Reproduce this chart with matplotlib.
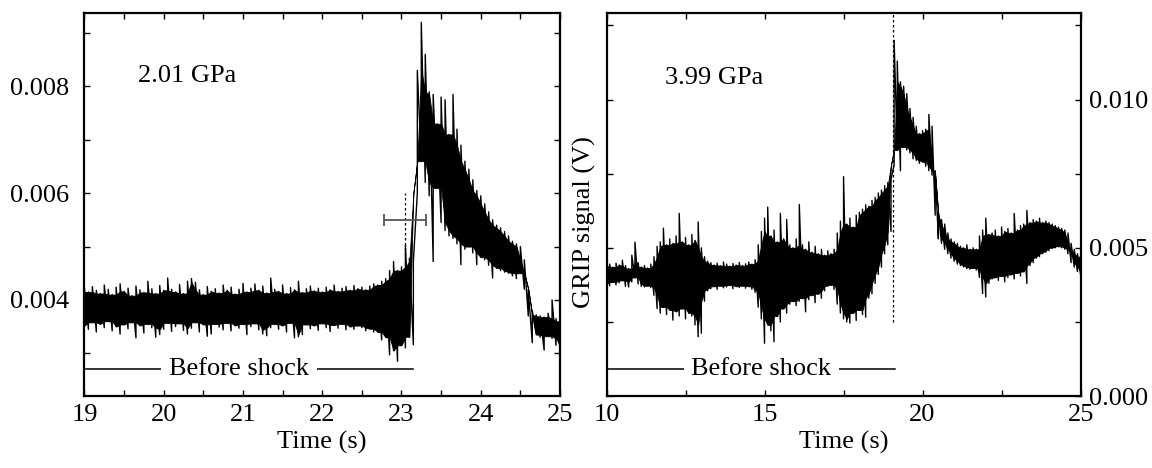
import numpy as np
import pandas as pd
import matplotlib
matplotlib.use("Agg")
import matplotlib.pyplot as plt
from matplotlib.ticker import MultipleLocator, FormatStrFormatter

plt.rcParams['font.family'] = ['Liberation Serif', 'DejaVu Serif']
plt.rcParams['font.size'] = 19

left_time = np.linspace(19.0, 25.0, 121)
left_high = [
    4.22, 4.15, 4.25, 4.18, 4.12, 4.28, 4.20, 4.10, 4.24, 4.30,
    4.16, 4.22, 4.08, 4.26, 4.19, 4.14, 4.35, 4.21, 4.12, 4.27,
    4.18, 4.41, 4.20, 4.15, 4.29, 4.12, 4.35, 4.40, 4.33, 4.19,
    4.10, 4.25, 4.16, 4.21, 4.13, 4.28, 4.18, 4.24, 4.11, 4.20,
    4.31, 4.15, 4.22, 4.30, 4.18, 4.26, 4.13, 4.41, 4.20, 4.16,
    4.28, 4.12, 4.23, 4.19, 4.35, 4.14, 4.21, 4.26, 4.17, 4.22,
    4.15, 4.24, 4.19, 4.28, 4.16, 4.22, 4.25, 4.18, 4.27, 4.21,
    4.24, 4.19, 4.26, 4.30,
    4.28, 4.35, 4.40, 4.55, 4.72, 4.55, 4.62, 5.03, 4.78, 4.72,
    8.30, 9.20, 8.60, 7.90, 7.85, 7.30, 7.80, 7.75, 7.10, 7.85,
    7.20, 6.90, 6.60, 6.45, 6.25, 6.05, 5.95, 5.80, 5.65, 5.50,
    5.40, 5.35, 5.28, 5.20, 5.10, 5.05, 5.00, 4.75, 4.20, 3.80,
    3.72, 3.70, 3.68, 3.75, 4.00, 3.65, 3.60,
]
left_low = [
    3.52, 3.45, 3.58, 3.40, 3.55, 3.48, 3.60, 3.42, 3.50, 3.36,
    3.54, 3.46, 3.58, 3.29, 3.52, 3.38, 3.55, 3.48, 3.30, 3.35,
    3.45, 3.57, 3.41, 3.50, 3.56, 3.43, 3.36, 3.47, 3.58, 3.40,
    3.54, 3.32, 3.36, 3.55, 3.49, 3.44, 3.57, 3.42, 3.52, 3.47,
    3.55, 3.35, 3.50, 3.56, 3.44, 3.36, 3.33, 3.48, 3.55, 3.45,
    3.52, 3.40, 3.57, 3.29, 3.31, 3.35, 3.54, 3.46, 3.52, 3.43,
    3.56, 3.48, 3.41, 3.53, 3.47, 3.55, 3.44, 3.50, 3.45, 3.52,
    3.48, 3.42, 3.46, 3.40,
    3.40, 3.25, 3.30, 2.97, 3.05, 2.85, 3.15, 3.10, 3.31, 3.16,
    6.00, 6.60, 6.20, 5.95, 4.72, 6.10, 5.45, 5.30, 5.20, 5.15,
    5.05, 4.66, 4.95, 5.00, 4.88, 4.66, 4.80, 4.75, 4.65, 4.41,
    4.60, 4.55, 4.52, 4.50, 4.45, 4.40, 4.50, 4.20, 3.70, 3.20,
    3.35, 3.30, 3.06, 3.32, 3.28, 3.15, 3.10,
]

right_time = np.linspace(10.0, 25.0, 151)
right_high = [
    4.40, 4.45, 4.35, 4.48, 4.42, 4.58, 4.40, 4.30, 4.75, 5.19,
    4.50, 4.35, 4.40, 4.32, 4.45, 4.70, 5.05, 5.20, 5.66, 5.10,
    5.30, 5.15, 5.40, 6.16, 5.20, 5.35, 5.10, 5.45, 5.25, 5.87,
    5.00, 4.70, 4.55, 4.50, 4.42, 4.48, 4.40, 4.52, 4.45, 4.38,
    4.47, 4.42, 4.50, 4.40, 4.46, 4.52, 4.45, 4.60, 5.10, 5.55,
    6.00, 6.37, 5.40, 5.60, 5.20, 6.16, 5.30, 5.96, 5.10, 5.00,
    5.30, 6.46, 5.10, 4.95, 5.20, 4.85, 5.05, 4.80, 4.95, 4.75,
    4.90, 4.80, 4.95, 5.50, 5.90, 7.40, 5.80, 6.00, 5.70, 6.10,
    6.20, 6.30, 6.45, 6.40, 6.60, 6.70, 6.85, 6.95, 7.10, 7.20,
    7.30, 12.00, 11.30, 10.60, 10.45, 10.20, 9.70, 9.40, 9.10, 8.85,
    8.95, 9.00, 9.50, 9.10, 7.60, 6.20, 5.95, 5.80, 5.50, 5.30,
    5.20, 5.15, 5.05, 5.00, 5.10, 4.95, 5.00, 4.95, 5.40, 5.60,
    6.00, 5.45, 5.50, 5.60, 5.40, 5.70, 5.55, 5.65, 5.50, 6.16,
    5.60, 5.75, 5.80, 6.26, 5.85, 5.95, 5.90, 6.00, 5.85, 5.90,
    5.85, 5.80, 5.75, 5.70, 5.65, 5.60, 5.50, 5.15, 4.95, 4.80,
    4.70,
]
right_low = [
    3.80, 3.72, 3.85, 3.75, 3.82, 3.90, 3.70, 3.68, 3.85, 4.00,
    3.78, 3.70, 3.68, 3.72, 3.66, 3.40, 2.95, 2.80, 3.00, 2.75,
    2.90, 2.56, 2.85, 2.70, 2.95, 2.60, 2.80, 2.70, 2.40, 2.00,
    2.12, 3.20, 3.55, 3.62, 3.70, 3.60, 3.72, 3.65, 3.68, 3.74,
    3.62, 3.70, 3.66, 3.72, 3.64, 3.70, 3.60, 3.50, 3.00, 2.60,
    1.78, 2.40, 2.20, 1.83, 2.70, 2.50, 2.95, 2.80, 3.10, 3.20,
    3.05, 3.20, 3.30, 2.84, 3.25, 3.40, 3.15, 3.45, 3.30, 3.55,
    3.70, 3.75, 3.60, 3.10, 2.80, 2.60, 2.50, 2.46, 2.80, 2.55,
    2.90, 2.75, 2.66, 3.30, 3.45, 3.80, 4.10, 4.35, 4.80, 5.10,
    5.55, 7.80, 8.30, 7.60, 8.40, 8.30, 8.20, 8.00, 7.95, 7.85,
    7.90, 7.75, 7.60, 7.45, 6.10, 5.30, 5.15, 4.95, 4.80, 4.65,
    4.55, 4.45, 4.40, 4.35, 4.30, 4.28, 4.32, 4.25, 4.00, 3.46,
    3.34, 3.80, 3.95, 4.00, 3.90, 4.05, 3.85, 4.00, 4.10, 3.95,
    4.15, 4.05, 4.20, 3.80, 4.40, 4.50, 4.65, 4.70, 4.80, 4.85,
    4.90, 5.00, 5.00, 5.05, 5.00, 4.95, 4.80, 4.50, 4.35, 4.20,
    4.10,
]

left_high = np.array(left_high) * 1e-3
left_low = np.array(left_low) * 1e-3
right_high = np.array(right_high) * 1e-3
right_low = np.array(right_low) * 1e-3

# annotations
left_pressure = "2.01 GPa"
right_pressure = "3.99 GPa"
left_shock_t = 23.05
left_shock_err = 0.265
right_shock_t = 19.05


def draw_trace(ax, t, lo, hi):
    # solid core of the noise band, then the raw min/max strokes on top
    core_lo = pd.Series(lo).rolling(3, center=True, min_periods=1).max().values
    core_hi = pd.Series(hi).rolling(3, center=True, min_periods=1).min().values
    core_hi = np.maximum(core_hi, core_lo)
    ax.fill_between(t, core_lo, core_hi, color='black', lw=0.6,
                    edgecolor='black')
    zig_t = np.repeat(t, 2)
    zig_v = np.column_stack([lo, hi]).ravel()
    ax.plot(zig_t, zig_v, color='black', lw=1.0)


def style_axes(ax):
    for s in ax.spines.values():
        s.set_linewidth(1.6)
    ax.tick_params(which='both', direction='in', top=True, bottom=True,
                   left=True, right=True, length=4.5, width=1.0)


fig = plt.figure(figsize=(11.52, 4.68), dpi=100)
ax1 = fig.add_axes([0.0733, 0.1538, 0.4128, 0.819])
ax2 = fig.add_axes([0.5265, 0.1538, 0.4115, 0.819])

# ---- left panel
draw_trace(ax1, left_time, left_low, left_high)
ax1.plot([left_shock_t, left_shock_t], [0.0040, 0.0060], color='black',
         lw=0.9, ls=(0, (2, 2)), zorder=1)
ax1.errorbar([left_shock_t], [0.0055], xerr=[left_shock_err], fmt='none',
             ecolor='#555555', elinewidth=1.3, capsize=4, capthick=1.3)
ax1.plot([19.0, 23.14], [0.0027, 0.0027], color='black', lw=1.1)
ax1.text(20.95, 0.0027, "Before shock", ha='center', va='center',
         bbox=dict(facecolor='white', edgecolor='none', pad=5.5), zorder=5)
ax1.text(19.67, 0.0082, left_pressure, ha='left', va='center')
ax1.set_xlim(19, 25)
ax1.set_ylim(0.0022, 0.00938)
ax1.xaxis.set_major_locator(MultipleLocator(1))
ax1.xaxis.set_minor_locator(MultipleLocator(0.5))
ax1.yaxis.set_major_locator(MultipleLocator(0.002))
ax1.yaxis.set_minor_locator(MultipleLocator(0.001))
ax1.yaxis.set_major_formatter(FormatStrFormatter('%.3f'))
style_axes(ax1)
ax1.tick_params(axis='y', pad=11)
ax1.tick_params(axis='x', pad=6)
ax1.set_xlabel("Time (s)", labelpad=3)

# ---- right panel
draw_trace(ax2, right_time, right_low, right_high)
ax2.plot([right_shock_t, right_shock_t], [0.0025, 0.0129], color='black',
         lw=0.9, ls=(0, (2, 2)), zorder=3)
ax2.plot([10.0, 19.14], [0.0009, 0.0009], color='black', lw=1.1)
ax2.text(14.9, 0.0009, "Before shock", ha='center', va='center',
         bbox=dict(facecolor='white', edgecolor='none', pad=5.5), zorder=5)
ax2.text(11.86, 0.01072, right_pressure, ha='left', va='center')
ax2.set_xlim(10, 25)
ax2.set_ylim(0.0, 0.01293)
ax2.xaxis.set_major_locator(MultipleLocator(5))
ax2.xaxis.set_minor_locator(MultipleLocator(2.5))
ax2.yaxis.set_major_locator(MultipleLocator(0.005))
ax2.yaxis.set_minor_locator(MultipleLocator(0.0025))
ax2.yaxis.set_major_formatter(FormatStrFormatter('%.3f'))
style_axes(ax2)
ax2.tick_params(axis='y', labelleft=False, labelright=True, pad=6)
ax2.tick_params(axis='x', pad=6)
ax2.set_xlabel("Time (s)", labelpad=3)
ax2.set_ylabel("GRIP signal (V)")
ax2.yaxis.set_label_position('left')
ax2.yaxis.set_label_coords(-0.022, 0.455)

fig.savefig("out.png", dpi=100)
